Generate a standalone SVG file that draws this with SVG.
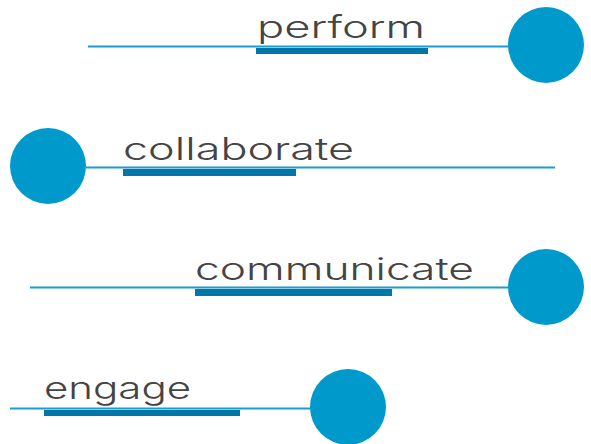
<svg xmlns="http://www.w3.org/2000/svg" width="591" height="444" viewBox="0 0 591 444">
<style>
.ln{stroke:#1a9bd1;stroke-width:2;fill:none}
.bar{fill:#0077a8}
.dot{fill:#0099cc}
.lbl{font-family:Inter,"DejaVu Sans",sans-serif;font-weight:300;font-size:30.5px;fill:#444444}
</style>
<rect width="591" height="444" fill="#ffffff"/>
<g id="connectors">
<line class="ln" x1="88" y1="46.5" x2="510" y2="46.5"/>
<line class="ln" x1="86" y1="167.5" x2="555" y2="167.5"/>
<line class="ln" x1="30" y1="287.5" x2="510" y2="287.5"/>
<line class="ln" x1="10" y1="408.5" x2="312" y2="408.5"/>
</g>
<g id="perform">
<rect class="bar" x="256" y="48" width="172" height="6"/>
<circle class="dot" cx="546" cy="45" r="38"/>
<text class="lbl" x="257" y="37.5" textLength="168" lengthAdjust="spacingAndGlyphs">perform</text>
</g>
<g id="collaborate">
<rect class="bar" x="123" y="169" width="173" height="7"/>
<circle class="dot" cx="48" cy="166" r="38"/>
<text class="lbl" x="123" y="159.5" textLength="231" lengthAdjust="spacingAndGlyphs">collaborate</text>
</g>
<g id="communicate">
<rect class="bar" x="195" y="289" width="197" height="7"/>
<circle class="dot" cx="546" cy="287" r="38"/>
<text class="lbl" x="195" y="279.5" textLength="279" lengthAdjust="spacingAndGlyphs">communicate</text>
</g>
<g id="engage">
<rect class="bar" x="44" y="410" width="196" height="6"/>
<circle class="dot" cx="348" cy="407" r="38"/>
<text class="lbl" x="44" y="398.5" textLength="147" lengthAdjust="spacingAndGlyphs">engage</text>
</g>
</svg>
